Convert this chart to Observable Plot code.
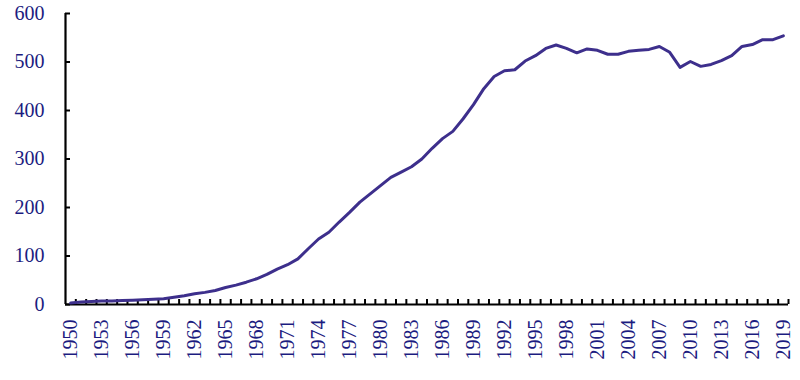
<!DOCTYPE html>
<html>
<head>
<meta charset="utf-8">
<script src="https://cdn.jsdelivr.net/npm/d3@7"></script>
<script src="https://cdn.jsdelivr.net/npm/@observablehq/plot@0.6"></script>
<style>
  html, body { margin: 0; padding: 0; background: #fff; }
  svg { display: block; }
</style>
</head>
<body>
<div id="chart"></div>
<script>
const years = d3.range(1950, 2020);
const values = [
  3, 5, 6, 7, 7, 8, 9, 10, 11, 12,
  15, 18, 22, 25, 29, 35, 40, 46, 53, 62,
  73, 82, 94, 115, 135, 149, 170, 190, 211, 228,
  245, 262, 273, 284, 300, 322, 342, 357, 383, 412,
  445, 470, 482, 484, 502, 513, 528, 535, 528, 519,
  527, 524, 516, 516, 522, 524, 526, 532, 520, 489,
  501, 491, 495, 503, 513, 532, 536, 546, 546, 554
];
const yTicks = [0, 100, 200, 300, 400, 500, 600];
const xLabelYears = d3.range(1950, 2020, 3);

const data = years.map((y, i) => ({year: y, value: values[i]}));
const boundaries = years.map(y => y + 0.5);

const textColor = "#1c1c80";
const lineColor = "#3d2f8c";

const chart = Plot.plot({
  width: 800,
  height: 380,
  marginLeft: 65,
  marginRight: 12,
  marginTop: 13,
  marginBottom: 76,
  style: {fontFamily: "'Liberation Serif', 'Times New Roman', serif", fontSize: "20px", background: "#fff"},
  x: {domain: [years[0] - 0.5, years[years.length - 1] + 0.5], label: null},
  y: {domain: [0, 600], label: null},
  marks: [
    Plot.axisY({ticks: yTicks, tickSize: -5, text: null, stroke: "#000", strokeWidth: 2, label: null}),
    Plot.axisY({ticks: yTicks, tickSize: 0, tickPadding: 21, fill: textColor, fontSize: 20, label: null}),
    Plot.axisX({ticks: boundaries, tickSize: -5, text: null, stroke: "#000", strokeWidth: 2, label: null}),
    Plot.axisX({ticks: xLabelYears, tickSize: 0, tickPadding: 15, tickRotate: -90, tickFormat: d => String(d), fill: textColor, fontSize: 20, label: null}),
    Plot.ruleX([years[0] - 0.5], {stroke: "#000", strokeWidth: 2.2}),
    Plot.ruleY([0], {stroke: "#000", strokeWidth: 2.2}),
    Plot.line(data, {x: "year", y: "value", stroke: lineColor, strokeWidth: 3, strokeLinejoin: "round"})
  ]
});
document.getElementById("chart").appendChild(chart);
</script>
</body>
</html>
